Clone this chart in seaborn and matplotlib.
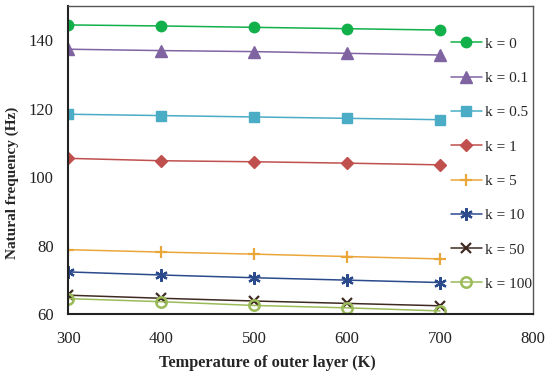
import matplotlib
matplotlib.use("Agg")
import matplotlib.pyplot as plt
import seaborn as sns
import pandas as pd

temps = [300, 400, 500, 600, 700]
k_labels = ["k = 0", "k = 0.1", "k = 0.5", "k = 1", "k = 5", "k = 10", "k = 50", "k = 100"]
f_k0 = [144.5, 144.2, 143.8, 143.4, 143.0]
f_k01 = [137.4, 137.0, 136.7, 136.2, 135.7]
f_k05 = [118.4, 118.0, 117.6, 117.2, 116.8]
f_k1 = [105.5, 104.8, 104.5, 104.1, 103.6]
f_k5 = [78.8, 78.1, 77.5, 76.8, 76.1]
f_k10 = [72.3, 71.4, 70.6, 69.9, 69.2]
f_k50 = [65.5, 64.6, 63.8, 63.1, 62.4]
f_k100 = [64.5, 63.6, 62.5, 61.8, 60.9]
series = [f_k0, f_k01, f_k05, f_k1, f_k5, f_k10, f_k50, f_k100]

colors = ["#12B04A", "#8064A2", "#4BACC6", "#C0504D", "#EBA63A", "#2B4A8C", "#3F2A22", "#9BBB59"]
markers = ["o", "^", "s", "D", "+", (6, 2, 0), "x", "o"]
msizes = [7.5, 8, 7.5, 6, 9, 9, 7, 7.5]

sns.set_theme(style="white")
plt.rcParams["font.family"] = ["Liberation Serif", "DejaVu Serif"]

fig = plt.figure(figsize=(5.5, 3.82), dpi=100)
ax = fig.add_axes([0.124, 0.178, 0.845, 0.806])

for lab, vals, c, m, ms in zip(k_labels, series, colors, markers, msizes):
    df = pd.DataFrame({"T": temps, "f": vals})
    kw = dict(marker=m, markersize=ms, color=c, linewidth=1.1, label=lab,
              markeredgecolor=c, markeredgewidth=1.6 if m in ["+", "x", (6, 2, 0)] else 1.0)
    if lab == "k = 100":
        kw["markerfacecolor"] = "none"
        kw["markeredgewidth"] = 1.8
    else:
        kw["markerfacecolor"] = c
    sns.lineplot(data=df, x="T", y="f", ax=ax, **kw)

ax.set_xlim(300, 800)
ax.set_ylim(60, 150)
ax.set_xticks([300, 400, 500, 600, 700, 800])
ax.set_yticks([60, 80, 100, 120, 140])
ax.tick_params(axis="both", length=0, labelsize=12, colors="#222222")
ax.tick_params(axis="x", pad=12)
ax.tick_params(axis="y", pad=10.5)
ax.set_xlabel("Temperature of outer layer (K)", fontsize=11.8, fontweight="bold")
ax.set_ylabel("Natural frequency (Hz)", fontsize=11, fontweight="bold")
ax.xaxis.set_label_coords(0.428, -0.133)
ax.yaxis.set_label_coords(-0.105, 0.425)
for s in ["top", "right"]:
    ax.spines[s].set_color("#555555")
    ax.spines[s].set_linewidth(1.0)
for s in ["left", "bottom"]:
    ax.spines[s].set_color("#222222")
    ax.spines[s].set_linewidth(1.5)

leg = ax.legend(loc="upper left", bbox_to_anchor=(0.824, 0.90), frameon=False,
                fontsize=11, labelspacing=1.35, handlelength=2.0, handletextpad=0.2,
                borderaxespad=0, borderpad=0)

fig.savefig("out.png", dpi=100)
